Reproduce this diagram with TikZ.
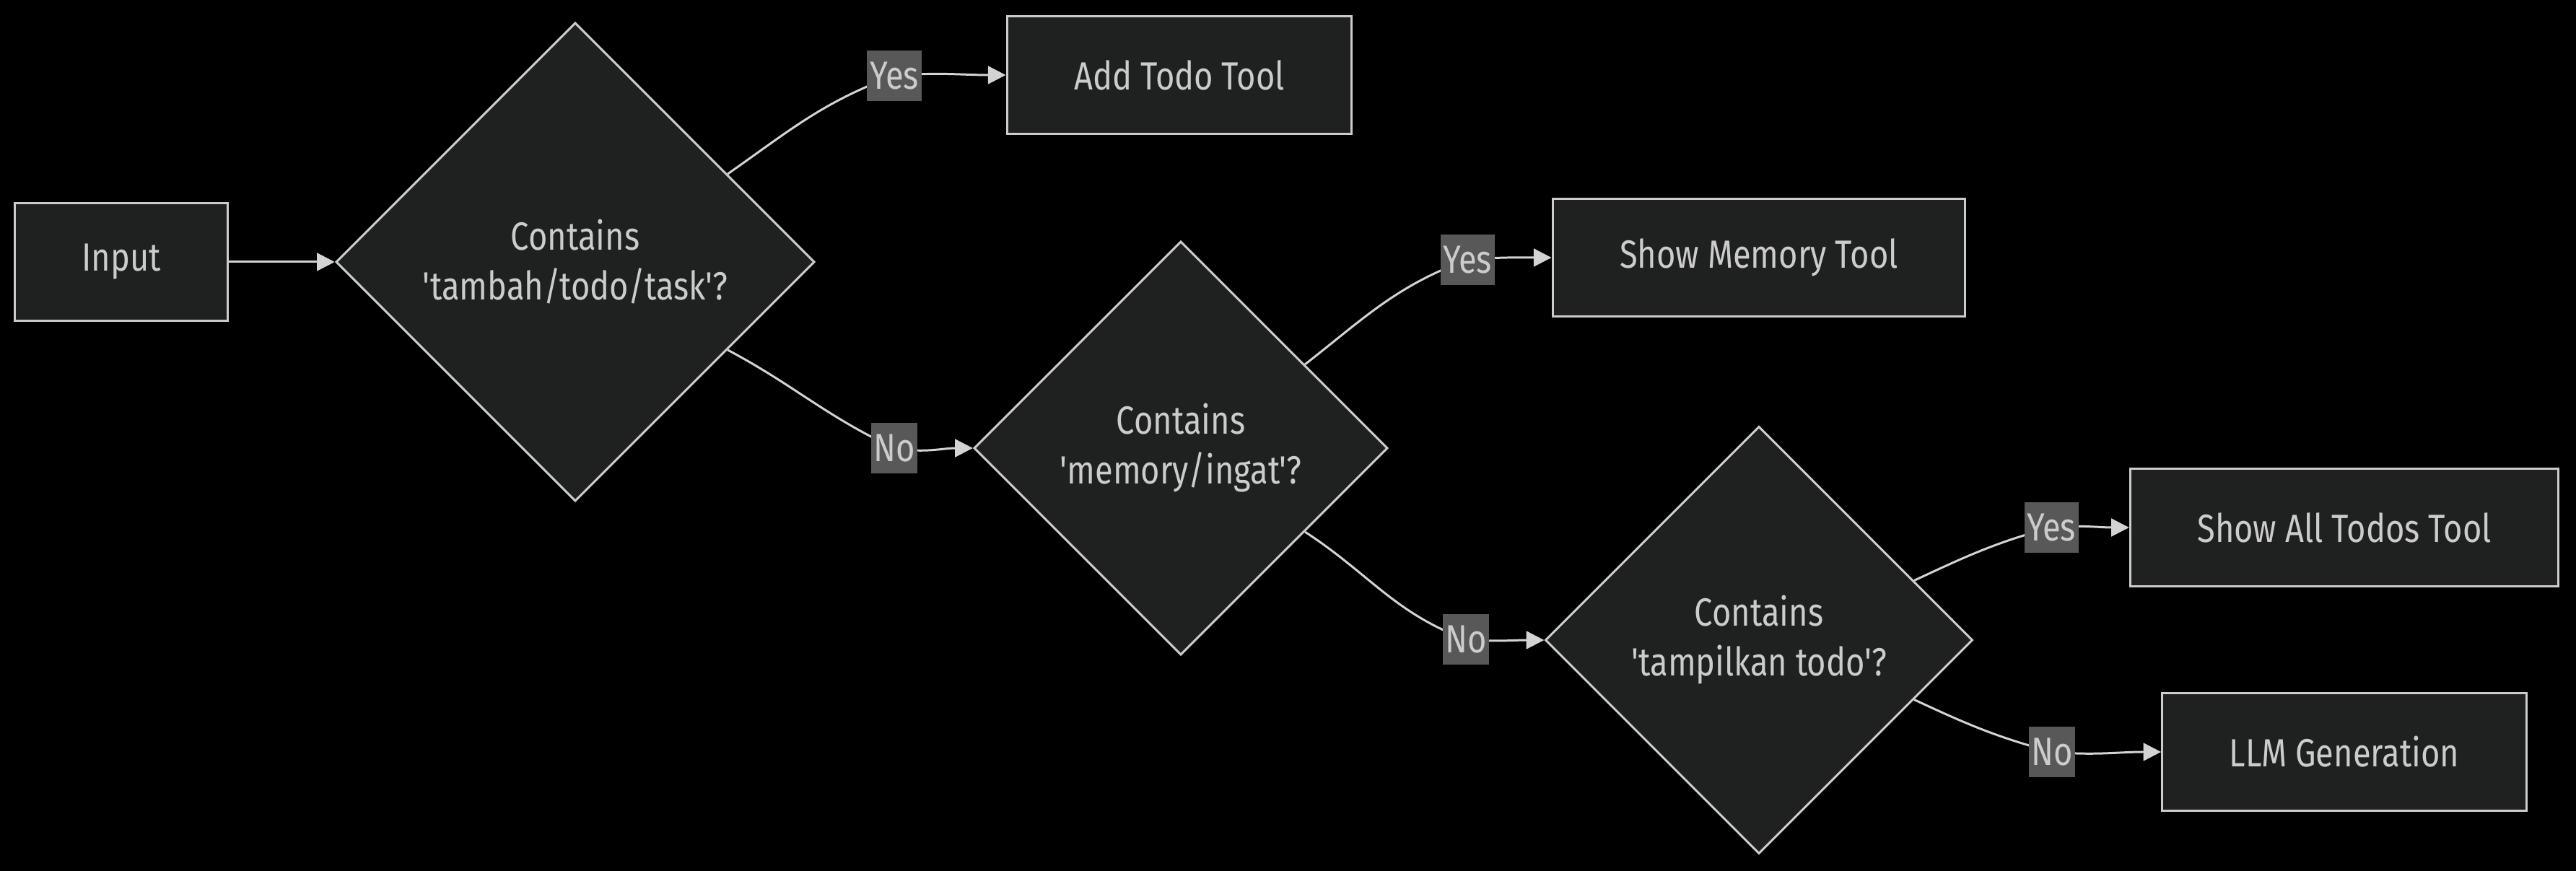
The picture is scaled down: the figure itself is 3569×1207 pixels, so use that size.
\documentclass[tikz,border=0pt]{standalone}
\usepackage{fontspec}
\setmainfont{Fira Sans}[FakeStretch=0.83,Ligatures=TeXOff]
\usetikzlibrary{shapes.geometric,arrows.meta}
\definecolor{nodefill}{HTML}{1F2020}
\definecolor{nodeline}{HTML}{CCCCCC}
\definecolor{nodetext}{HTML}{CCCCCC}
\definecolor{edgeline}{HTML}{D3D3D3}
\definecolor{labelfill}{HTML}{585858}
\newcommand\flowsize{\fontsize{15.5}{19.6}\selectfont}
\pgfdeclarelayer{backdrop}
\pgfdeclarelayer{edges}
\pgfsetlayers{backdrop,edges,main}
\tikzset{
  box/.style={draw=nodeline, fill=nodefill, text=nodetext, line width=0.85pt, minimum height=1.62cm, inner xsep=0.93cm, font=\flowsize},
  decision/.style={diamond, aspect=1, draw=nodeline, fill=nodefill, text=nodetext, line width=0.85pt, align=center, inner sep=0pt, font=\flowsize},
  answer/.style={fill=labelfill, text=nodetext, inner xsep=1pt, inner ysep=0pt, minimum height=0.7cm, font=\flowsize},
  flow/.style={draw=edgeline, line width=0.85pt, -{Triangle[length=7pt,width=7pt]}}
}
\begin{document}
\begin{tikzpicture}[x=0.01cm,y=0.01cm]
\begin{pgfonlayer}{backdrop}
\fill[black] (0,0) rectangle (3569,-1207);
\end{pgfonlayer}
\useasboundingbox (0,0) rectangle (3569,-1207);
% nodes
\node[box] (input) at (168,-363) {Input};
\node[decision, minimum size=6.63cm] (tambah) at (797,-363) {Contains\\'tambah/todo/task'?};
\node[box] (addtodo) at (1634,-104) {Add Todo Tool};
\node[decision, minimum size=5.73cm] (memory) at (1636,-621) {Contains\\'memory/ingat'?};
\node[box] (showmem) at (2437,-357) {Show Memory Tool};
\node[decision, minimum size=5.92cm] (tampil) at (2437,-887) {Contains\\'tampilkan todo'?};
\node[box] (showall) at (3248,-731) {Show All Todos Tool};
\node[box] (llm) at (3248,-1042) {LLM Generation};
% edge labels
\node[answer] (yes1) at (1239,-105) {Yes};
\node[answer] (no1) at (1239,-621) {No};
\node[answer] (yes2) at (2033,-360) {Yes};
\node[answer] (no2) at (2031,-886) {No};
\node[answer] (yes3) at (2842,-731) {Yes};
\node[answer] (no3) at (2843,-1042) {No};
% edges
\begin{pgfonlayer}{edges}
\draw[flow] (input) -- (tambah);
\draw[flow] (tambah.30) to[out=35,in=200] (yes1.center) to[out=5,in=180] (addtodo.west);
\draw[flow] (tambah.-30) to[out=-28,in=155] (no1.center) to[out=-10,in=180] (memory.west);
\draw[flow] (memory.34) to[out=38,in=200] (yes2.center) to[out=5,in=180] (showmem.west);
\draw[flow] (memory.-34) to[out=-33,in=160] (no2.center) to[out=-5,in=180] (tampil.west);
\draw[flow] (tampil.21) to[out=25,in=195] (yes3.center) to[out=5,in=180] (showall.west);
\draw[flow] (tampil.-21) to[out=-25,in=165] (no3.center) to[out=-5,in=180] (llm.west);
\end{pgfonlayer}
\end{tikzpicture}
\end{document}
